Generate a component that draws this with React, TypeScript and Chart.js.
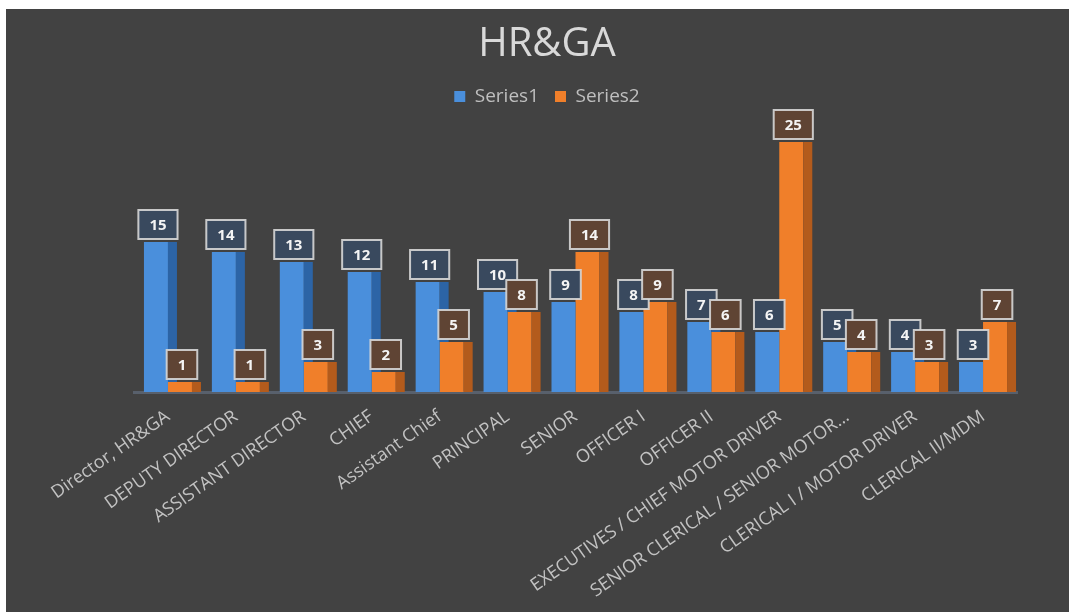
import React, { useEffect, useRef } from "react";
import { Chart, registerables } from "chart.js";

Chart.register(...registerables);

const categories = [
  "Director, HR&GA",
  "DEPUTY DIRECTOR",
  "ASSISTANT DIRECTOR",
  "CHIEF",
  "Assistant Chief",
  "PRINCIPAL",
  "SENIOR",
  "OFFICER I",
  "OFFICER II",
  "EXECUTIVES / CHIEF MOTOR DRIVER",
  "SENIOR CLERICAL / SENIOR MOTOR…",
  "CLERICAL I / MOTOR DRIVER",
  "CLERICAL II/MDM",
];
const series1 = [15, 14, 13, 12, 11, 10, 9, 8, 7, 6, 5, 4, 3];
const series2 = [1, 1, 3, 2, 5, 8, 14, 9, 6, 25, 4, 3, 7];
const seriesNames = ["Series1", "Series2"];
const chartTitle = "HR&GA";

const FRONT = ["#4a8fdc", "#f07f2a"];
const SIDE = ["#2c64a6", "#b35b1c"];
const LABEL_FILL = ["#39495e", "#5f4434"];
const DEPTH = 9;

const barSidesPlugin = {
  id: "barSides",
  afterDatasetDraw(chart: any, args: any) {
    const ctx = chart.ctx;
    const idx = args.index;
    const meta = args.meta;
    ctx.save();
    ctx.fillStyle = SIDE[idx];
    meta.data.forEach((el: any, i: number) => {
      const p = el.getProps(["x", "y", "base", "width"], true);
      const right = p.x + p.width / 2;
      let bottom = p.base;
      if (idx === 0) {
        const other = chart.getDatasetMeta(1).data[i];
        if (other) {
          const op = other.getProps(["y"], true);
          bottom = Math.min(p.base, op.y);
        }
      }
      if (bottom > p.y) {
        ctx.fillRect(right, p.y, DEPTH, bottom - p.y);
      }
    });
    ctx.restore();
  },
};

const boxLabelsPlugin = {
  id: "boxLabels",
  afterDatasetsDraw(chart: any) {
    const ctx = chart.ctx;
    ctx.save();
    ctx.font = "bold 15px 'Open Sans', sans-serif";
    ctx.textAlign = "center";
    ctx.textBaseline = "middle";
    [0, 1].forEach((di) => {
      const meta = chart.getDatasetMeta(di);
      const values = chart.data.datasets[di].data;
      meta.data.forEach((el: any, i: number) => {
        const p = el.getProps(["x", "y"], true);
        const text = String(values[i]);
        const tw = ctx.measureText(text).width;
        const w = tw + 22;
        const h = 29;
        const cx = p.x + 2;
        const bottom = p.y - 3;
        const left = cx - w / 2;
        const top = bottom - h;
        ctx.fillStyle = LABEL_FILL[di];
        ctx.fillRect(left, top, w, h);
        ctx.strokeStyle = "rgba(215,215,215,0.9)";
        ctx.lineWidth = 2;
        ctx.strokeRect(left, top, w, h);
        ctx.fillStyle = "#f4f4f4";
        ctx.fillText(text, cx, top + h / 2 + 1);
      });
    });
    ctx.restore();
  },
};

export default function App() {
  const canvasRef = useRef<HTMLCanvasElement | null>(null);

  useEffect(() => {
    if (!canvasRef.current) return;
    const chart = new Chart(canvasRef.current, {
      type: "bar",
      data: {
        labels: categories,
        datasets: [
          {
            label: seriesNames[0],
            data: series1,
            backgroundColor: FRONT[0],
            borderWidth: 0,
            categoryPercentage: 0.707,
            barPercentage: 1,
          },
          {
            label: seriesNames[1],
            data: series2,
            backgroundColor: FRONT[1],
            borderWidth: 0,
            categoryPercentage: 0.707,
            barPercentage: 1,
          },
        ],
      },
      options: {
        responsive: false,
        animation: false,
        layout: { padding: { left: 71, right: 52, top: 0, bottom: 0 } },
        plugins: {
          title: {
            display: true,
            text: chartTitle,
            color: "#d9d9d9",
            font: { family: "'Open Sans', sans-serif", size: 40, weight: "normal" },
            padding: { top: 12, bottom: 2 },
          },
          legend: {
            display: true,
            position: "top",
            labels: {
              color: "#bfbfbf",
              font: { family: "'Open Sans', sans-serif", size: 19 },
              boxWidth: 11,
              boxHeight: 11,
              padding: 16,
            },
          },
          tooltip: { enabled: false },
        },
        scales: {
          x: {
            grid: { display: false },
            border: { display: true, color: "#58606c", width: 3 },
            ticks: {
              color: "#c2c2c2",
              font: { family: "'Open Sans', sans-serif", size: 18 },
              minRotation: 35,
              maxRotation: 35,
              autoSkip: false,
              padding: 6,
            },
            afterFit: (scale: any) => {
              scale.height = 220;
            },
          },
          y: {
            display: true,
            min: 0,
            max: 27.6,
            grid: { display: false },
            border: { display: false },
            ticks: { display: false },
            afterFit: (scale: any) => {
              scale.width = 57;
            },
          },
        },
      },
      plugins: [barSidesPlugin, boxLabelsPlugin],
    });
    return () => chart.destroy();
  }, []);

  return (
    <div
      style={{
        position: "absolute",
        left: 6,
        top: 9,
        width: 1063,
        height: 603,
        background: "#424242",
      }}
    >
      <canvas ref={canvasRef} width={1063} height={603} />
    </div>
  );
}
